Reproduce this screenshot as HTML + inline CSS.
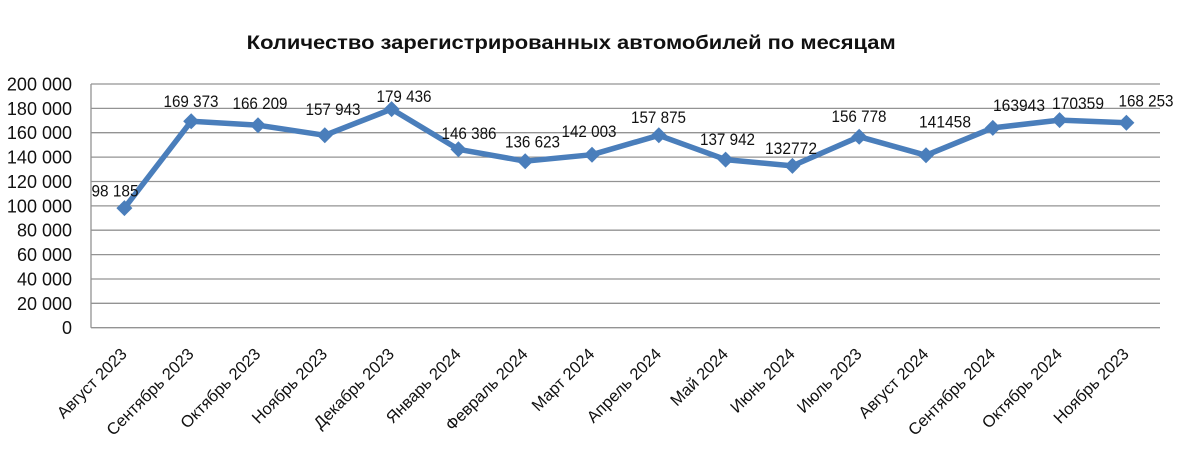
<!DOCTYPE html>
<html>
<head>
<meta charset="utf-8">
<style>
  html, body { margin:0; padding:0; background:#fff; }
  svg { display:block; }
  text { font-family: "Liberation Sans", "DejaVu Sans", sans-serif; fill:#111; }
</style>
</head>
<body>
<svg width="1187" height="456" viewBox="0 0 1187 456" xmlns="http://www.w3.org/2000/svg">
  <rect x="0" y="0" width="1187" height="456" fill="#fff"/>
  <!-- Title -->
  <text x="246.7" y="49" font-size="19" font-weight="bold" textLength="649" lengthAdjust="spacingAndGlyphs">Количество зарегистрированных автомобилей по месяцам</text>

  <!-- Gridlines -->
  <g stroke="#939393" stroke-width="1.3">
    <line x1="91" y1="84" x2="1160" y2="84"/>
    <line x1="91" y1="108.4" x2="1160" y2="108.4"/>
    <line x1="91" y1="132.7" x2="1160" y2="132.7"/>
    <line x1="91" y1="157.1" x2="1160" y2="157.1"/>
    <line x1="91" y1="181.5" x2="1160" y2="181.5"/>
    <line x1="91" y1="205.9" x2="1160" y2="205.9"/>
    <line x1="91" y1="230.2" x2="1160" y2="230.2"/>
    <line x1="91" y1="254.6" x2="1160" y2="254.6"/>
    <line x1="91" y1="279" x2="1160" y2="279"/>
    <line x1="91" y1="303.3" x2="1160" y2="303.3"/>
    <line x1="91" y1="327.7" x2="1160" y2="327.7"/>
    <line x1="91" y1="84" x2="91" y2="327.7"/>
  </g>

  <!-- Y labels -->
  <g font-size="18" text-anchor="end">
    <text x="72" y="90.5">200 000</text>
    <text x="72" y="114.9">180 000</text>
    <text x="72" y="139.2">160 000</text>
    <text x="72" y="163.6">140 000</text>
    <text x="72" y="188">120 000</text>
    <text x="72" y="212.4">100 000</text>
    <text x="72" y="236.7">80 000</text>
    <text x="72" y="261.1">60 000</text>
    <text x="72" y="285.5">40 000</text>
    <text x="72" y="309.8">20 000</text>
    <text x="72" y="334.2">0</text>
  </g>

  <!-- Series line -->
  <polyline fill="none" stroke="#4A7EBB" stroke-width="5.5" stroke-linejoin="round"
    points="124.4,208.1 191.2,121.3 258.0,125.2 324.8,135.3 391.6,109.1 458.4,149.3 525.2,161.2 592.0,154.7 658.8,135.3 725.6,159.6 792.4,165.9 859.2,136.7 926.0,155.3 992.8,127.9 1059.6,120.1 1126.4,122.7"/>

  <!-- Markers -->
  <g fill="#4A7EBB">
    <polygon points="124.4,200.1 132.4,208.1 124.4,216.1 116.4,208.1"/>
    <polygon points="191.2,113.3 199.2,121.3 191.2,129.3 183.2,121.3"/>
    <polygon points="258.0,117.2 266.0,125.2 258.0,133.2 250.0,125.2"/>
    <polygon points="324.8,127.3 332.8,135.3 324.8,143.3 316.8,135.3"/>
    <polygon points="391.6,101.1 399.6,109.1 391.6,117.1 383.6,109.1"/>
    <polygon points="458.4,141.3 466.4,149.3 458.4,157.3 450.4,149.3"/>
    <polygon points="525.2,153.2 533.2,161.2 525.2,169.2 517.2,161.2"/>
    <polygon points="592.0,146.7 600.0,154.7 592.0,162.7 584.0,154.7"/>
    <polygon points="658.8,127.3 666.8,135.3 658.8,143.3 650.8,135.3"/>
    <polygon points="725.6,151.6 733.6,159.6 725.6,167.6 717.6,159.6"/>
    <polygon points="792.4,157.9 800.4,165.9 792.4,173.9 784.4,165.9"/>
    <polygon points="859.2,128.7 867.2,136.7 859.2,144.7 851.2,136.7"/>
    <polygon points="926.0,147.3 934.0,155.3 926.0,163.3 918.0,155.3"/>
    <polygon points="992.8,119.9 1000.8,127.9 992.8,135.9 984.8,127.9"/>
    <polygon points="1059.6,112.1 1067.6,120.1 1059.6,128.1 1051.6,120.1"/>
    <polygon points="1126.4,114.7 1134.4,122.7 1126.4,130.7 1118.4,122.7"/>
  </g>

  <!-- Data labels -->
  <g font-size="16.5" text-anchor="middle">
    <text x="115" y="196.5" textLength="47" lengthAdjust="spacingAndGlyphs">98 185</text>
    <text x="191" y="107" textLength="55" lengthAdjust="spacingAndGlyphs">169 373</text>
    <text x="260" y="109" textLength="55" lengthAdjust="spacingAndGlyphs">166 209</text>
    <text x="333" y="115" textLength="55" lengthAdjust="spacingAndGlyphs">157 943</text>
    <text x="404" y="102" textLength="55" lengthAdjust="spacingAndGlyphs">179 436</text>
    <text x="469" y="139" textLength="55" lengthAdjust="spacingAndGlyphs">146 386</text>
    <text x="532.5" y="147.5" textLength="55" lengthAdjust="spacingAndGlyphs">136 623</text>
    <text x="589" y="137" textLength="55" lengthAdjust="spacingAndGlyphs">142 003</text>
    <text x="658.5" y="123" textLength="55" lengthAdjust="spacingAndGlyphs">157 875</text>
    <text x="727.5" y="145" textLength="55" lengthAdjust="spacingAndGlyphs">137 942</text>
    <text x="791" y="154" textLength="52" lengthAdjust="spacingAndGlyphs">132772</text>
    <text x="859" y="122" textLength="55" lengthAdjust="spacingAndGlyphs">156 778</text>
    <text x="945" y="127.5" textLength="52" lengthAdjust="spacingAndGlyphs">141458</text>
    <text x="1019" y="111" textLength="52" lengthAdjust="spacingAndGlyphs">163943</text>
    <text x="1078" y="109" textLength="52" lengthAdjust="spacingAndGlyphs">170359</text>
    <text x="1146" y="106.5" textLength="55" lengthAdjust="spacingAndGlyphs">168 253</text>
  </g>

  <!-- X labels -->
  <g font-size="16.5" text-anchor="end">
    <text transform="translate(127.9,355) rotate(-45)">Август 2023</text>
    <text transform="translate(194.7,355) rotate(-45)">Сентябрь 2023</text>
    <text transform="translate(261.5,355) rotate(-45)">Октябрь 2023</text>
    <text transform="translate(328.3,355) rotate(-45)">Ноябрь 2023</text>
    <text transform="translate(395.1,355) rotate(-45)">Декабрь 2023</text>
    <text transform="translate(461.9,355) rotate(-45)">Январь 2024</text>
    <text transform="translate(528.7,355) rotate(-45)">Февраль 2024</text>
    <text transform="translate(595.5,355) rotate(-45)">Март 2024</text>
    <text transform="translate(662.3,355) rotate(-45)">Апрель 2024</text>
    <text transform="translate(729.1,355) rotate(-45)">Май 2024</text>
    <text transform="translate(795.9,355) rotate(-45)">Июнь 2024</text>
    <text transform="translate(862.7,355) rotate(-45)">Июль 2023</text>
    <text transform="translate(929.5,355) rotate(-45)">Август 2024</text>
    <text transform="translate(996.3,355) rotate(-45)">Сентябрь 2024</text>
    <text transform="translate(1063.1,355) rotate(-45)">Октябрь 2024</text>
    <text transform="translate(1129.9,355) rotate(-45)">Ноябрь 2023</text>
  </g>
</svg>
</body>
</html>
